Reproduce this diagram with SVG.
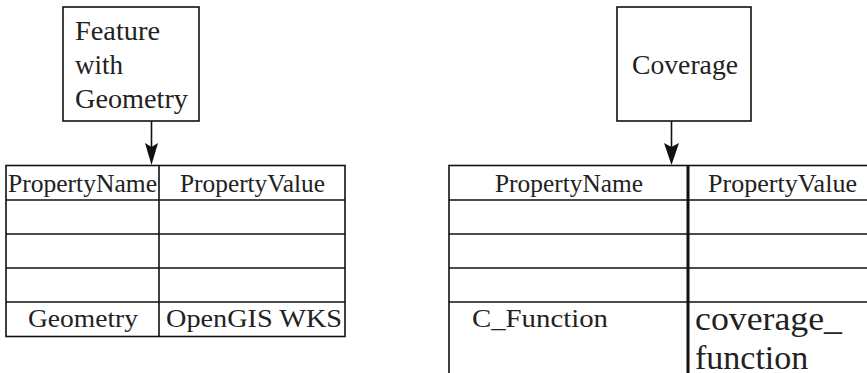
<svg xmlns="http://www.w3.org/2000/svg" width="867" height="373" viewBox="0 0 867 373">
<defs>
<style>
.box{fill:#fff;stroke:#111;stroke-width:1.6}
.ln{stroke:#111;stroke-width:1.6;fill:none}
.thick{stroke:#111;stroke-width:3;fill:none}
.t{font-family:serif;fill:#222}
.s25{font-size:25px}
.s27{font-size:27px}
.s34{font-size:34px}
.head{fill:#111;stroke:none}
</style>
</defs>
<rect width="867" height="373" fill="#fff"/>
<g id="feature">
<rect class="box" x="63" y="7" width="136" height="114"/>
<text class="t s27" x="75" y="40" textLength="85" lengthAdjust="spacingAndGlyphs">Feature</text>
<text class="t s27" x="75" y="74">with</text>
<text class="t s27" x="75" y="108" textLength="113" lengthAdjust="spacingAndGlyphs">Geometry</text>
</g>
<g id="coverage">
<rect class="box" x="617" y="7" width="134" height="114"/>
<text class="t s27" x="632" y="74" textLength="106" lengthAdjust="spacingAndGlyphs">Coverage</text>
</g>
<g id="table-left">
<rect class="box" x="6" y="165.5" width="339" height="171"/>
<path class="ln" d="M159 165.5V336.5M6 200H345M6 234H345M6 268H345M6 302H345"/>
<text class="t s25" x="82.5" y="192" text-anchor="middle" textLength="149" lengthAdjust="spacingAndGlyphs">PropertyName</text>
<text class="t s25" x="252.5" y="192" text-anchor="middle" textLength="145" lengthAdjust="spacingAndGlyphs">PropertyValue</text>
<text class="t s25" x="83" y="327" text-anchor="middle" textLength="110" lengthAdjust="spacingAndGlyphs">Geometry</text>
<text class="t s25" x="166" y="327" textLength="176" lengthAdjust="spacingAndGlyphs">OpenGIS WKS</text>
</g>
<g id="table-right">
<rect class="box" x="449" y="165.5" width="428" height="220"/>
<path class="ln" d="M449 200H877M449 234H877M449 268H877M449 302H877"/>
<path class="thick" d="M688 165.5V385"/>
<text class="t s25" x="569" y="192" text-anchor="middle" textLength="148" lengthAdjust="spacingAndGlyphs">PropertyName</text>
<text class="t s25" x="782.5" y="192" text-anchor="middle" textLength="149" lengthAdjust="spacingAndGlyphs">PropertyValue</text>
<text class="t s25" x="472" y="327" textLength="136" lengthAdjust="spacingAndGlyphs">C_Function</text>
<text class="t s34" x="695" y="330" textLength="147" lengthAdjust="spacingAndGlyphs">coverage_</text>
<text class="t s34" x="695" y="369">function</text>
</g>
<g id="connectors">
<path class="ln" d="M151.5 121V150"/>
<polygon class="head" points="145,143 151.5,147 158,143 151.5,165"/>
<path class="ln" d="M671.5 121V150"/>
<polygon class="head" points="664,143 671.5,147 679,143 671.5,165"/>
</g>
</svg>
